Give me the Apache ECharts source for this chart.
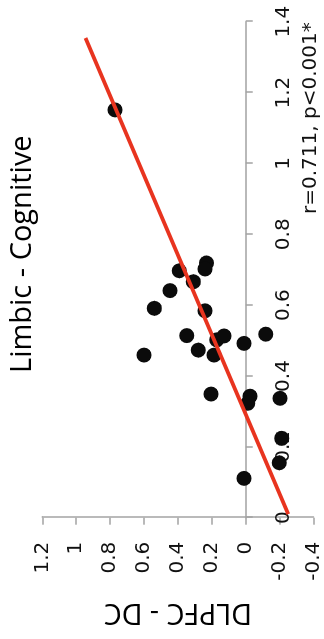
<!DOCTYPE html>
<html>
<head>
<meta charset="utf-8">
<script src="https://cdn.jsdelivr.net/npm/echarts@6/dist/echarts.min.js"></script>
<style>
  html, body { margin: 0; padding: 0; background: #fff; overflow: hidden; }
  #stage { width: 324px; height: 639px; position: relative; overflow: hidden; background: #fff; }
  /* the plot is laid out landscape, then turned a quarter turn counter-clockwise */
  #chart {
    width: 639px; height: 324px;
    position: absolute; left: 0; top: 0;
    transform-origin: 0 0;
    transform: translateY(639px) rotate(-90deg);
  }
</style>
</head>
<body>
<div id="stage"><div id="chart"></div></div>
<script>
// Connectivity values, one entry per subject
const limbicCognitive = [1.151, 0.719, 0.702, 0.697, 0.666, 0.641, 0.591, 0.584, 0.518, 0.514,
                         0.502, 0.513, 0.492, 0.473, 0.459, 0.459, 0.349, 0.343, 0.323, 0.337,
                         0.224, 0.155, 0.111];
const dlpfcDc = [0.771, 0.231, 0.240, 0.392, 0.309, 0.447, 0.539, 0.240, -0.118, 0.348,
                 0.171, 0.128, 0.010, 0.280, 0.187, 0.600, 0.205, -0.025, -0.012, -0.202,
                 -0.212, -0.198, 0.010];

// Least-squares fit line, start and end points
const fitLimbic = [0.010, 1.354];
const fitDlpfc = [-0.251, 0.945];

// Axis tick labels
const xTickLabels = ['0', '0.2', '0.4', '0.6', '0.8', '1', '1.2', '1.4'];
const yTickLabels = ['-0.4', '-0.2', '0', '0.2', '0.4', '0.6', '0.8', '1', '1.2'];

const titleText = 'Limbic - Cognitive';
const yAxisName = 'DLPFC - DC';
const statText = 'r=0.711, p<0.001*';

const points = limbicCognitive.map((v, i) => [v, dlpfcDc[i]]);
const fitPoints = fitLimbic.map((v, i) => [v, fitDlpfc[i]]);

function tickFormatter(labels) {
  const nums = labels.map(Number);
  return function (v) {
    let best = 0;
    for (let i = 1; i < nums.length; i++) {
      if (Math.abs(nums[i] - v) < Math.abs(nums[best] - v)) best = i;
    }
    return labels[best];
  };
}

const axisGray = '#a3a3a3';
const numFont = 'DejaVu Sans';
const wordFont = 'Open Sans';

// plot area inside the 639 x 324 landscape canvas
const gridBox = { left: 121.3, right: 21.7, top: 42.3, bottom: 10.5 };
const chartHeight = 324;
const yMin = Number(yTickLabels[0]);
const yMax = Number(yTickLabels[yTickLabels.length - 1]);
const plotHeight = chartHeight - gridBox.top - gridBox.bottom;
// the horizontal axis runs along DLPFC - DC = 0, lifted up from the bottom edge
const xAxisLift = -((0 - yMin) / (yMax - yMin)) * plotHeight;

const chart = echarts.init(document.getElementById('chart'), null, { renderer: 'canvas' });
chart.setOption({
  animation: false,
  backgroundColor: '#fff',
  title: {
    text: titleText,
    left: 266,
    top: 8,
    padding: 0,
    textStyle: { fontFamily: wordFont, fontSize: 29, fontWeight: 'normal', color: '#000' }
  },
  grid: Object.assign({ containLabel: false, outerBoundsMode: 'none' }, gridBox),
  xAxis: {
    type: 'value',
    position: 'bottom',
    offset: xAxisLift,
    min: Number(xTickLabels[0]),
    max: Number(xTickLabels[xTickLabels.length - 1]),
    interval: Number(xTickLabels[1]) - Number(xTickLabels[0]),
    axisLine: { show: true, onZero: false, lineStyle: { color: axisGray, width: 1.5 } },
    axisTick: { show: true, inside: false, length: 7, lineStyle: { color: axisGray, width: 1.5 } },
    axisLabel: {
      show: true,
      margin: 28,
      fontFamily: numFont, fontSize: 20, color: '#111',
      formatter: tickFormatter(xTickLabels)
    },
    splitLine: { show: false }
  },
  yAxis: {
    type: 'value',
    min: yMin,
    max: yMax,
    interval: Number(yTickLabels[1]) - Number(yTickLabels[0]),
    name: yAxisName,
    nameLocation: 'middle',
    nameGap: 80,
    nameTextStyle: { fontFamily: wordFont, fontSize: 28.5, color: '#000' },
    axisLine: { show: true, onZero: false, lineStyle: { color: axisGray, width: 1.5 } },
    axisTick: { show: true, inside: false, length: 7, lineStyle: { color: axisGray, width: 1.5 } },
    axisLabel: {
      show: true,
      margin: 24,
      fontFamily: numFont, fontSize: 20, color: '#111',
      formatter: tickFormatter(yTickLabels)
    },
    splitLine: { show: false }
  },
  graphic: [{
    type: 'text',
    x: 425,
    y: 311,
    style: {
      text: statText,
      font: '20px "' + numFont + '"',
      fill: '#111',
      align: 'left',
      verticalAlign: 'middle'
    }
  }],
  series: [
    {
      type: 'scatter',
      data: points,
      symbol: 'circle',
      symbolSize: 15,
      itemStyle: { color: '#0b0b0b', opacity: 1 },
      z: 3
    },
    {
      type: 'line',
      data: fitPoints,
      symbol: 'none',
      lineStyle: { color: '#e8341f', width: 4 },
      z: 4
    }
  ]
});
</script>
</body>
</html>
